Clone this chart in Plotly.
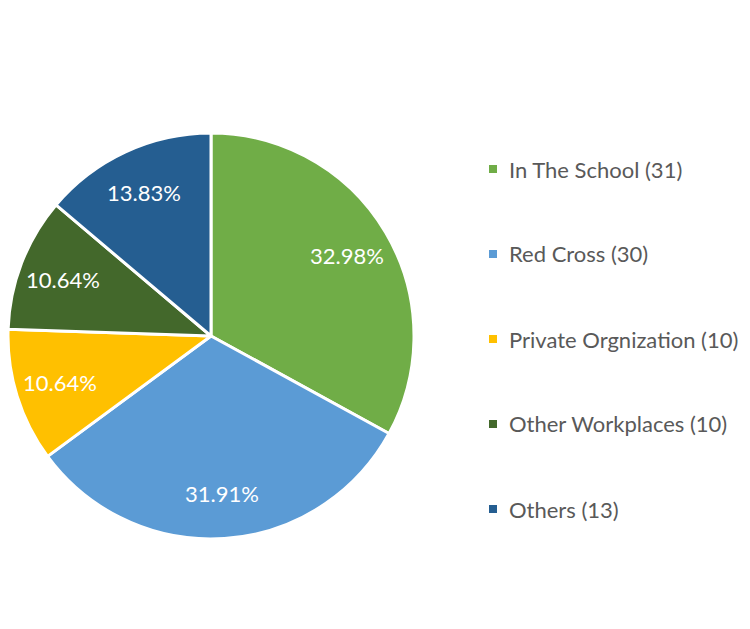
import math
import plotly.graph_objects as go

# Data
labels = ["In The School", "Red Cross", "Private Orgnization", "Other Workplaces", "Others"]
counts = [31, 30, 10, 10, 13]
colors = ["#70AD47", "#5B9BD5", "#FFC000", "#43682B", "#255E91"]

W, H = 758, 629
# pie geometry in figure pixels
cx, cy, r = 203, 328, 203
label_dist = 0.78

fig = go.Figure()

fig.add_trace(
    go.Pie(
        labels=labels,
        values=counts,
        sort=False,
        direction="clockwise",
        rotation=0,
        marker=dict(colors=colors, line=dict(color="white", width=3)),
        textinfo="none",
        domain=dict(x=[(cx - r) / W, (cx + r) / W], y=[1 - (cy + r) / H, 1 - (cy - r) / H]),
        showlegend=False,
        hoverinfo="label+value+percent",
    )
)

# percentage labels placed like Excel's (near the outer part of each slice)
total = sum(counts)
cum = 0
for n in counts:
    mid = (cum + n / 2) / total * 2 * math.pi
    cum += n
    x = cx + label_dist * r * math.sin(mid)
    y = cy - label_dist * r * math.cos(mid)
    fig.add_annotation(
        xref="paper", yref="paper",
        x=x / W, y=1 - y / H,
        xanchor="center", yanchor="middle",
        text=f"{n / total * 100:.2f}%",
        showarrow=False,
        font=dict(family="Lato", size=22, color="white"),
    )

# Legend drawn by hand so the spacing matches
legend_top = 161
legend_step = 85
for i, (lab, n, col) in enumerate(zip(labels, counts, colors)):
    y = 1 - (legend_top + i * legend_step) / H
    fig.add_shape(
        type="rect", xref="paper", yref="paper",
        x0=481 / W, x1=489 / W,
        y0=y - 4 / H, y1=y + 4 / H,
        fillcolor=col, line=dict(width=0),
    )
    fig.add_annotation(
        xref="paper", yref="paper",
        x=499 / W, y=y,
        xanchor="left", yanchor="middle",
        text=f"{lab} ({n})",
        showarrow=False,
        font=dict(family="Lato", size=22, color="#595959"),
    )

fig.update_layout(
    width=W,
    height=H,
    margin=dict(l=0, r=0, t=0, b=0),
    paper_bgcolor="white",
    plot_bgcolor="white",
)

fig.write_html("out.html")
